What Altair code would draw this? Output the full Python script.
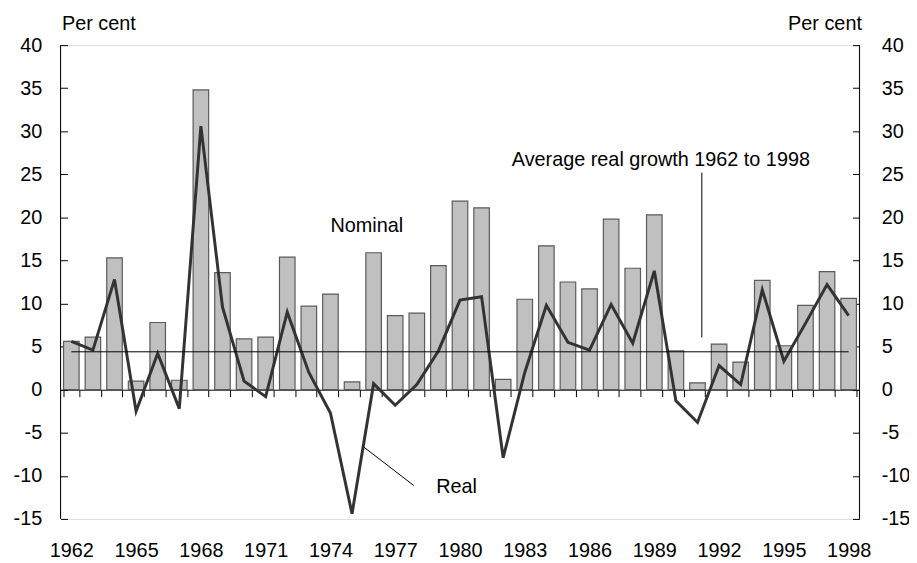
import altair as alt
import pandas as pd

# ---- data ----
years = list(range(1962, 1999))
nominal = [5.6, 6.1, 15.3, 1.0, 7.8, 1.1, 34.8, 13.6, 5.9, 6.1, 15.4, 9.7, 11.1, 0.9,
           15.9, 8.6, 8.9, 14.4, 21.9, 21.1, 1.2, 10.5, 16.7, 12.5, 11.7, 19.8, 14.1,
           20.3, 4.5, 0.8, 5.3, 3.2, 12.7, 5.1, 9.8, 13.7, 10.6]
real = [5.6, 4.6, 12.8, -2.5, 4.2, -2.2, 30.6, 9.6, 1.0, -0.8, 9.0, 2.0, -2.7, -14.4,
        0.7, -1.8, 0.6, 4.5, 10.4, 10.8, -7.9, 2.0, 9.8, 5.5, 4.6, 9.9, 5.4, 13.8,
        -1.3, -3.8, 2.8, 0.6, 11.6, 3.3, 7.7, 12.2, 8.6]
avg_real = 4.4
avg_from, avg_to = 1962, 1998

y_ticks = list(range(-15, 41, 5))

ann_text = ["Nominal", "Average real growth 1962 to 1998", "Real"]
ann_x = [1974.0, 1982.4, 1978.9]
ann_y = [19.0, 26.7, -11.3]

lead_x = [1991.2, 1975.53]
lead_x2 = [1991.2, 1977.86]
lead_y = [25.2, -6.63]
lead_y2 = [6.07, -11.12]

frame_x = [1961.5, 1998.5]
frame_y = [-15, -15]
frame_y2 = [40, 40]

# ---- build ----
W, H = 806, 478
FONT = "Liberation Sans"
FS = 20

df = pd.DataFrame({"year": years, "nominal": nominal, "real": real})
df_ann = pd.DataFrame({"text": ann_text, "x": ann_x, "y": ann_y})
df_lead = pd.DataFrame({"x": lead_x, "x2": lead_x2, "y": lead_y, "y2": lead_y2})
df_frame = pd.DataFrame({"x": frame_x, "y": frame_y, "y2": frame_y2})
df_avg = pd.DataFrame({"x": [avg_from], "x2": [avg_to], "y": [avg_real]})

yscale = alt.Scale(domain=[-15, 40], nice=False, zero=False)
xband = alt.Scale(paddingInner=0.28, paddingOuter=0.14)
xq = alt.Scale(domain=[1961.5, 1998.5], nice=False, zero=False)

x_axis = alt.Axis(
    orient="bottom", offset=-H * 15 / 55, tickBand="extent", tickSize=7,
    tickColor="black", tickWidth=1, domainColor="black", domainWidth=1,
    labelAngle=0, labelOverlap=False,
    labelExpr="(datum.value - 1962) % 3 == 0 ? datum.label : ''",
    labelPadding=145, labelFont=FONT, labelFontSize=FS, labelColor="black",
    title=None, grid=False,
)

common_y = dict(
    values=y_ticks, offset=-7, tickSize=7, tickColor="black", tickWidth=1,
    domain=False, grid=False, labelFont=FONT, labelFontSize=FS, labelColor="black",
    labelExpr="'' + datum.value",
    title="Per cent", titleAngle=0, titleBaseline="alphabetic", titleFont=FONT,
    titleFontSize=FS, titleFontWeight="normal", titleColor="black", titleY=-16,
)
y_left = alt.Axis(orient="left", labelPadding=19, titleAlign="left", titleX=-6, **common_y)
y_right = alt.Axis(orient="right", labelPadding=22, titleAlign="right", titleX=9, **common_y)

bars = alt.Chart(df).mark_bar(fill="#c0c0c0", stroke="#5a5a5a", strokeWidth=1.2).encode(
    x=alt.X("year:O", scale=xband, axis=x_axis),
    y=alt.Y("nominal:Q", scale=yscale, axis=y_left),
    y2=alt.datum(0),
)
line = alt.Chart(df).mark_line(color="#333333", strokeWidth=3).encode(
    x=alt.X("year:O", scale=xband, axis=x_axis),
    y=alt.Y("real:Q", scale=yscale, axis=y_left),
)
inner = alt.layer(bars, line)

avg = alt.Chart(df_avg).mark_rule(color="black", strokeWidth=1).encode(
    x=alt.X("x:Q", scale=xq, axis=None), x2="x2:Q",
    y=alt.Y("y:Q", scale=yscale, axis=y_right),
)
frame = alt.Chart(df_frame).mark_rule(color="black", strokeWidth=1).encode(
    x=alt.X("x:Q", scale=xq, axis=None),
    y=alt.Y("y:Q", scale=yscale, axis=y_right), y2="y2:Q",
)
leads = alt.Chart(df_lead).mark_rule(color="black", strokeWidth=1).encode(
    x=alt.X("x:Q", scale=xq, axis=None), x2="x2:Q",
    y=alt.Y("y:Q", scale=yscale, axis=y_right), y2="y2:Q",
)
texts = alt.Chart(df_ann).mark_text(
    align="left", baseline="middle", font=FONT, fontSize=FS, color="black"
).encode(
    x=alt.X("x:Q", scale=xq, axis=None),
    y=alt.Y("y:Q", scale=yscale, axis=y_right),
    text="text:N",
)
annot = alt.layer(avg, frame, leads, texts)

chart = alt.layer(inner, annot).resolve_scale(x="independent", y="independent").properties(
    width=W, height=H,
    autosize=alt.AutoSizeParams(type="none"),
    padding={"left": 53, "top": 35, "right": 50, "bottom": 40},
).configure_view(stroke=None).configure(background="white")

chart.save("out.html", embed_options={"renderer": "svg", "actions": False})
